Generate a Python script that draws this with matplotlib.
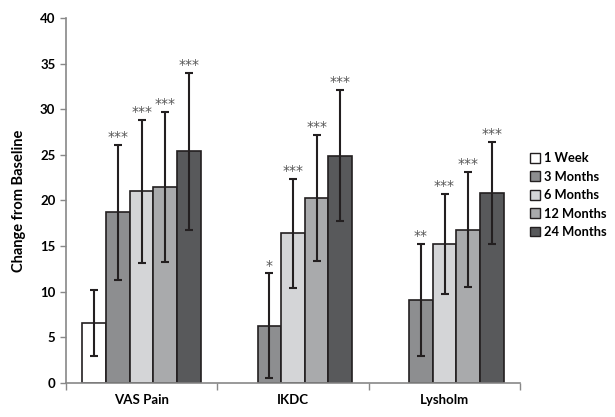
import matplotlib
matplotlib.use("Agg")
import matplotlib.pyplot as plt
import numpy as np
from matplotlib.patches import Patch

categories = ["VAS Pain", "IKDC", "Lysholm"]
series = ["1 Week", "3 Months", "6 Months", "12 Months", "24 Months"]
values = {
    "1 Week":    [6.6, None, None],
    "3 Months":  [18.7, 6.3, 9.1],
    "6 Months":  [21.0, 16.4, 15.2],
    "12 Months": [21.5, 20.3, 16.8],
    "24 Months": [25.4, 24.9, 20.8],
}
errors = {
    "1 Week":    [3.6, None, None],
    "3 Months":  [7.4, 5.7, 6.1],
    "6 Months":  [7.8, 6.0, 5.5],
    "12 Months": [8.2, 6.9, 6.3],
    "24 Months": [8.6, 7.2, 5.6],
}
stars = {
    "1 Week":    ["", "", ""],
    "3 Months":  ["***", "*", "**"],
    "6 Months":  ["***", "***", "***"],
    "12 Months": ["***", "***", "***"],
    "24 Months": ["***", "***", "***"],
}
colors = ["#ffffff", "#8d8e90", "#d4d5d7", "#a9aaac", "#58595b"]

plt.rcParams['font.family'] = ['Lato', 'DejaVu Sans']
fig = plt.figure(figsize=(6.15, 4.17), dpi=100)
ax = fig.add_axes([0.107, 0.0815, 0.739, 0.8755])

width = 0.156
centers = np.arange(len(categories)) + 0.5
for i, s in enumerate(series):
    offs = (i - 2) * width
    for j, c in enumerate(categories):
        v = values[s][j]
        if v is None:
            continue
        x = centers[j] + offs
        ax.bar(x, v, width, color=colors[i], edgecolor="#231f20", linewidth=1.2, zorder=2)
        e = errors[s][j]
        ax.errorbar(x, v, yerr=e, fmt="none", ecolor="#231f20", elinewidth=1.5,
                    capsize=3, capthick=1.5, zorder=3)
        if stars[s][j]:
            ax.text(x, v + e + 0.1, stars[s][j], ha="center", va="bottom",
                    fontsize=10, color="#555555", family="DejaVu Sans")

ax.set_xlim(0, 3)
ax.set_ylim(0, 40)
ax.set_yticks(np.arange(0, 41, 5))
ax.set_xticks(centers)
ax.set_xticklabels(categories, fontsize=9.5, fontweight="bold")
ax.set_xticks([0, 1, 2, 3], minor=True)
ax.tick_params(axis="x", which="major", length=0, pad=8)
ax.tick_params(axis="x", which="minor", length=5, color="#888888", width=1)
ax.tick_params(axis="y", length=4, color="#888888", width=1, labelsize=9.5)
for lab in ax.get_yticklabels():
    lab.set_fontweight("bold")
for sp in ["top", "right"]:
    ax.spines[sp].set_visible(False)
for sp in ["left", "bottom"]:
    ax.spines[sp].set_color("#888888")
    ax.spines[sp].set_linewidth(1.2)
ax.set_ylabel("Change from Baseline", fontsize=10.5, fontweight="bold", labelpad=10)

handles = [Patch(facecolor=colors[i], edgecolor="#231f20", linewidth=1.0, label=s)
           for i, s in enumerate(series)]
leg = fig.legend(handles=handles, loc="upper left", bbox_to_anchor=(0.862, 0.635),
                 frameon=False, fontsize=9.3, handlelength=0.8, handleheight=0.8,
                 handletextpad=0.3, labelspacing=0.5, borderaxespad=0, borderpad=0)
for t in leg.get_texts():
    t.set_fontweight("bold")

fig.savefig("out.png", dpi=100)
